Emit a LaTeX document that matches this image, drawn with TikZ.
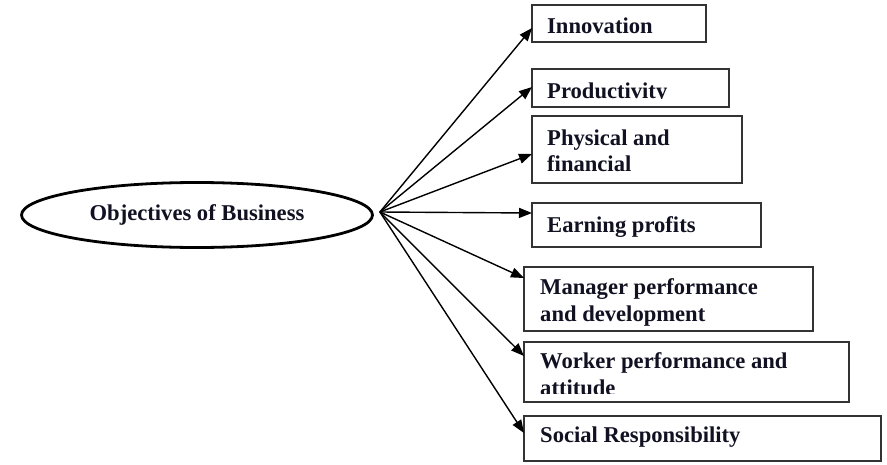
\documentclass[tikz,border=0pt]{standalone}
\usepackage{fontspec}
\setmainfont{Liberation Serif}
\usetikzlibrary{arrows.meta,shapes.geometric}
\definecolor{ink}{HTML}{111122}
\definecolor{boxgray}{HTML}{333333}
\begin{document}
\begin{tikzpicture}[x=1pt,y=-1pt,
  box/.style={draw=boxgray, line width=1.8pt, rectangle, inner sep=0pt, outer sep=0pt, anchor=north west},
  lbl/.style={anchor=base west, inner sep=0pt, text=ink, font=\bfseries\fontsize{22.6}{26.8}\selectfont, align=left},
  link/.style={-{Triangle[length=13pt,width=10pt]}, line width=1.4pt, shorten >=0pt},
  hubell/.style={ellipse, draw, line width=2.8pt, inner sep=0pt, text=ink, font=\bfseries\fontsize{22.6}{26.8}\selectfont}]
\useasboundingbox (0,0) rectangle (887,464);
\node[hubell, minimum width=351pt, minimum height=65pt] (obj) at (197,215) {Objectives of Business};
\coordinate (hub) at ([xshift=6pt,yshift=3pt]obj.east);
% boxes
\node[box, minimum width=174pt, minimum height=37pt] (b1) at (532,5) {};
\node[box, minimum width=197pt, minimum height=38pt] (b2) at (532,69) {};
\node[box, minimum width=210pt, minimum height=67pt] (b3) at (532,116) {};
\node[box, minimum width=229pt, minimum height=44pt] (b4) at (532,203) {};
\node[box, minimum width=289pt, minimum height=64pt] (b5) at (524,267) {};
\node[box, minimum width=325pt, minimum height=60pt] (b6) at (524,342) {};
\node[box, minimum width=357pt, minimum height=45pt] (b7) at (524,416) {};
% texts, clipped inside their boxes
\begin{scope}\clip ([yshift=8pt]b1.south west) rectangle (b1.north east);
\node[lbl] (t1) at (547,33) {Innovation};\end{scope}
\begin{scope}\clip ([yshift=8.5pt]b2.south west) rectangle (b2.north east);
\node[lbl] (t2) at (547,98) {Productivity};\end{scope}
\begin{scope}\clip ([yshift=4pt]b3.south west) rectangle (b3.north east);
\node[lbl] (t3a) at (547,145) {Physical and};
\node[lbl] (t3b) at (547,171) {financial};\end{scope}
\begin{scope}\clip ([yshift=4pt]b4.south west) rectangle (b4.north east);
\node[lbl] (t4) at (547,232) {Earning profits};\end{scope}
\begin{scope}\clip ([yshift=4pt]b5.south west) rectangle (b5.north east);
\node[lbl] (t5a) at (540,294) {Manager performance};
\node[lbl] (t5b) at (540,321) {and development};\end{scope}
\begin{scope}\clip ([yshift=9pt]b6.south west) rectangle (b6.north east);
\node[lbl] (t6a) at (540,368) {Worker performance and};
\node[lbl] (t6b) at (540,395) {attitude};\end{scope}
\begin{scope}\clip ([yshift=4pt]b7.south west) rectangle (b7.north east);
\node[lbl] (t7) at (540,442) {Social Responsibility};\end{scope}
% connectors
\draw[link] (hub) -- ([yshift=-23pt]b1.north west);
\draw[link] (hub) -- ([yshift=-18pt]b2.north west);
\draw[link] (hub) -- ([yshift=-38pt]b3.north west);
\draw[link] (hub) -- ([yshift=-10pt]b4.north west);
\draw[link] (hub) -- ([yshift=-11pt]b5.north west);
\draw[link] (hub) -- ([yshift=-14pt]b6.north west);
\draw[link] (hub) -- ([yshift=-17pt]b7.north west);
\end{tikzpicture}
\end{document}
